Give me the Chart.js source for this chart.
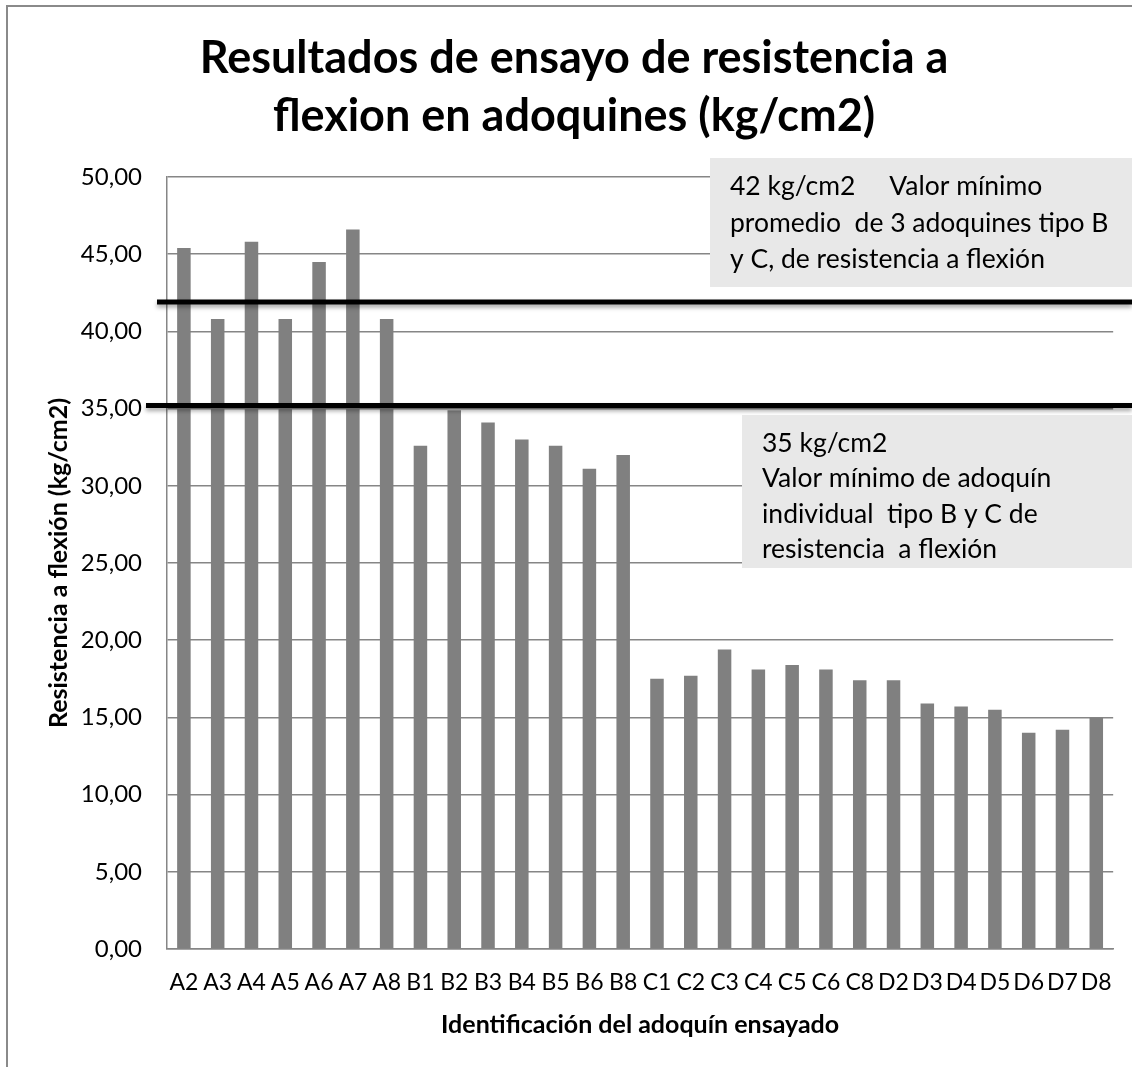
<!DOCTYPE html>
<html lang="es">
<head>
  <meta charset="UTF-8" />
  <title>Resultados de ensayo de resistencia a flexion en adoquines</title>
  <script src="https://cdn.jsdelivr.net/npm/chart.js"></script>
  <style>
    html, body { margin: 0; padding: 0; background: #fff; }
    .wrap { position: relative; width: 1132px; height: 1067px; }
  </style>
</head>
<body>
  <div class="wrap">
    <canvas id="chart"></canvas>
  </div>
  <script>
    // adoquines ensayados
    const adoquines = ['A2', 'A3', 'A4', 'A5', 'A6', 'A7', 'A8',
                       'B1', 'B2', 'B3', 'B4', 'B5', 'B6', 'B8',
                       'C1', 'C2', 'C3', 'C4', 'C5', 'C6', 'C8',
                       'D2', 'D3', 'D4', 'D5', 'D6', 'D7', 'D8'];
    // resistencia a flexion (kg/cm2)
    const resistencia = [45.4, 40.8, 45.8, 40.8, 44.5, 46.6, 40.8,
                         32.6, 34.9, 34.1, 33.0, 32.6, 31.1, 32.0,
                         17.5, 17.7, 19.4, 18.1, 18.4, 18.1, 17.4,
                         17.4, 15.9, 15.7, 15.5, 14.0, 14.2, 15.0];
    // limites de norma, como estan dibujados
    const limitePromedio = 41.9;
    const limiteIndividual = 35.2;

    const titulo = ['Resultados de ensayo de resistencia a', 'flexion en adoquines (kg/cm2)'];
    const notaPromedio = ['42 kg/cm2     Valor mínimo', 'promedio  de 3 adoquines tipo B', 'y C, de resistencia a flexión'];
    const notaIndividual = ['35 kg/cm2', 'Valor mínimo de adoquín', 'individual  tipo B y C de', 'resistencia  a flexión'];

    const FONT = 'Lato, "Open Sans", sans-serif';
    const GRID = '#868686';

    const marco = {
      id: 'marco',
      beforeDraw(chart) {
        const ctx = chart.ctx;
        ctx.save();
        ctx.fillStyle = '#fff';
        ctx.fillRect(0, 0, chart.width, chart.height);
        ctx.strokeStyle = '#8a8a8a';
        ctx.lineWidth = 2;
        ctx.beginPath();
        ctx.moveTo(7, chart.height);
        ctx.lineTo(7, 6);
        ctx.lineTo(chart.width, 6);
        ctx.stroke();
        ctx.restore();
      },
      afterDatasetsDraw(chart) {
        const ctx = chart.ctx;
        const y = chart.scales.y;
        const area = chart.chartArea;
        ctx.save();

        // lineas de limite
        ctx.strokeStyle = '#000';
        ctx.lineWidth = 5;
        ctx.shadowColor = 'rgba(0,0,0,0.35)';
        ctx.shadowBlur = 4;
        ctx.shadowOffsetY = 3;
        [[limitePromedio, area.left - 10], [limiteIndividual, area.left - 21]].forEach(([v, x0]) => {
          const py = y.getPixelForValue(v);
          ctx.beginPath();
          ctx.moveTo(x0, py);
          ctx.lineTo(chart.width, py);
          ctx.stroke();
        });
        ctx.shadowColor = 'transparent';

        // cuadros de texto
        ctx.font = '26.5px ' + FONT;
        ctx.textBaseline = 'alphabetic';
        ctx.textAlign = 'left';
        const cuadro = (x, top, bottom, lines, tx, base, step) => {
          ctx.fillStyle = '#e8e8e8';
          ctx.fillRect(x, top, chart.width - x, bottom - top);
          ctx.fillStyle = '#000';
          lines.forEach((t, i) => ctx.fillText(t, tx, base + i * step));
        };
        cuadro(710, 158, 287, notaPromedio, 730, 195, 36.5);
        cuadro(742, 415, 568, notaIndividual, 762, 452, 35.4);

        ctx.restore();
      },
      afterDraw(chart) {
        const ctx = chart.ctx;
        ctx.save();
        ctx.fillStyle = '#000';
        ctx.font = 'bold 45px ' + FONT;
        ctx.textAlign = 'center';
        ctx.textBaseline = 'alphabetic';
        titulo.forEach((t, i) => ctx.fillText(t, 574, 73 + i * 58));
        ctx.restore();
      }
    };

    new Chart(document.getElementById('chart'), {
      type: 'bar',
      data: {
        labels: adoquines,
        datasets: [{
          data: resistencia,
          backgroundColor: '#808080',
          barPercentage: 0.4,
          categoryPercentage: 1.0
        }]
      },
      options: {
        responsive: true,
        maintainAspectRatio: false,
        animation: false,
        layout: { padding: { top: 177, right: 17, bottom: 0, left: 0 } },
        plugins: {
          legend: { display: false },
          tooltip: { enabled: false }
        },
        scales: {
          x: {
            grid: { display: false, drawTicks: false },
            border: { display: true, color: GRID, width: 1.5 },
            ticks: {
              color: '#000',
              font: { family: FONT, size: 23 },
              padding: 20,
              maxRotation: 0,
              autoSkip: false
            },
            title: {
              display: true,
              text: 'Identificación del adoquín ensayado',
              color: '#000',
              font: { family: FONT, size: 25, weight: 'bold' },
              padding: { top: 0, bottom: 27 }
            },
            afterFit(scale) { scale.height = 118; }
          },
          y: {
            min: 0,
            max: 50,
            ticks: {
              stepSize: 5,
              color: '#000',
              font: { family: FONT, size: 24 },
              padding: 25,
              callback: v => v.toFixed(2).replace('.', ',')
            },
            grid: { color: GRID, lineWidth: 1.5, drawTicks: false },
            border: { display: true, color: GRID, width: 1.5 },
            title: {
              display: true,
              text: 'Resistencia a flexión (kg/cm2)',
              color: '#000',
              font: { family: FONT, size: 25, weight: 'bold' },
              padding: { top: 44, bottom: 0 }
            },
            afterFit(scale) { scale.width = 167; }
          }
        }
      },
      plugins: [marco]
    });
  </script>
</body>
</html>
